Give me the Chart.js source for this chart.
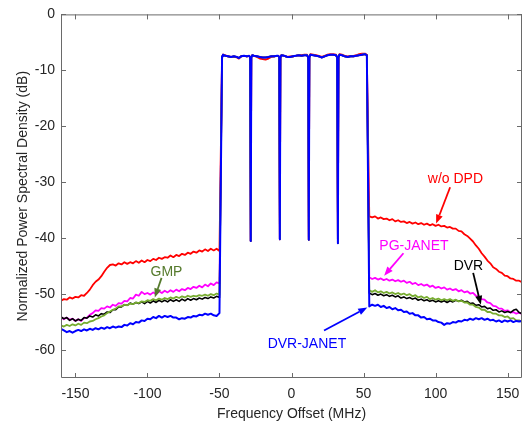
<!DOCTYPE html>
<html>
<head>
<meta charset="utf-8">
<title>PSD comparison</title>
<script src="https://cdn.jsdelivr.net/npm/chart.js@4"></script>
<style>
  html, body { margin: 0; padding: 0; background: #fff; }
</style>
</head>
<body>
<canvas id="psd" width="529" height="423"></canvas>
<script>
"use strict";

// Frequency grids (MHz): lower adjacent band, occupied band, upper adjacent band
const freqLeft = [
    -160, -158, -156, -154, -152, -150, -148, -146, -144, -142,
    -140, -138, -136, -134, -132, -130, -128, -126, -124, -122,
    -120, -118, -116, -114, -112, -110, -108, -106, -104, -102,
    -100, -98, -96, -94, -92, -90, -88, -86, -84, -82,
    -80, -78, -76, -74, -72, -70, -68, -66, -64, -62,
    -60, -58, -56, -54, -52, -50
];
const freqInBand = [
    -48.2, -47.6, -46, -44, -42, -40, -38, -36.5, -35, -33,
    -31, -29.4, -28.7, -28.3, -27.9, -27.2, -26, -24, -22, -20,
    -18, -16, -14, -12, -10, -9.2, -8.5, -8.1, -7.7, -7,
    -5, -3, -1, 1, 3, 5, 7, 9, 10.8, 11.6,
    12.0, 12.4, 13.1, 15, 17, 19, 21, 23, 25, 27,
    29, 30.9, 31.7, 32.2, 32.6, 33.3, 35, 37, 39, 41,
    43, 45, 47, 49, 51, 52.3
];
const freqRight = [
    54, 56, 58, 60, 62, 64, 66, 68, 70, 72,
    74, 76, 78, 80, 82, 84, 86, 88, 90, 92,
    94, 96, 98, 100, 102, 104, 106, 108, 110, 112,
    114, 116, 118, 120, 122, 124, 126, 128, 130, 132,
    134, 136, 138, 140, 142, 144, 146, 148, 150, 152,
    154, 156, 158, 160
];

// Occupied band level (dB), five 20 MHz carriers
const inBandLinearized = [
    -7.5, -7.2, -7.4, -7.5, -7.6, -7.5, -7.6, -7.8, -7.5, -7.4,
    -7.5, -7.4, -7.7, -40.5, -7.7, -7.3, -7.4, -7.5, -7.6, -7.7,
    -7.7, -7.6, -7.5, -7.5, -7.4, -7.4, -7.7, -40.2, -7.7, -7.3,
    -7.4, -7.6, -7.6, -7.5, -7.4, -7.3, -7.4, -7.3, -7.3, -7.7,
    -40.3, -7.7, -7.2, -7.3, -7.4, -7.5, -7.7, -7.5, -7.3, -7.2,
    -7.2, -7.3, -7.7, -40.9, -7.7, -7.2, -7.3, -7.5, -7.6, -7.5,
    -7.5, -7.4, -7.3, -7.2, -7.1, -7.3
];
const inBandNoDpd = [
    -7.5, -7.2, -7.3, -7.5, -7.6, -7.6, -7.7, -7.9, -7.5, -7.4,
    -7.5, -7.4, -7.7, -40.5, -7.7, -7.3, -7.4, -7.6, -7.9, -8.0,
    -8.1, -7.9, -7.6, -7.5, -7.4, -7.4, -7.7, -40.2, -7.7, -7.3,
    -7.4, -7.6, -7.5, -7.5, -7.4, -7.3, -7.3, -7.2, -7.2, -7.7,
    -40.3, -7.7, -7.1, -7.2, -7.3, -7.4, -7.6, -7.4, -7.2, -7.1,
    -7.1, -7.2, -7.7, -40.9, -7.7, -7.1, -7.2, -7.4, -7.5, -7.4,
    -7.4, -7.3, -7.1, -7.0, -7.0, -7.2
];

// Out-of-band spectra (dB) for each linearization method
const noDpdLeft = [
    -51.2, -50.9, -51.0, -50.6, -50.8, -50.5, -50.6, -50.2, -50.3, -49.8,
    -49.2, -48.4, -47.8, -47.4, -46.8, -46.0, -45.3, -44.8, -44.7, -44.9,
    -44.5, -44.7, -44.3, -44.6, -44.3, -44.5, -44.1, -44.4, -44.0, -44.3,
    -43.9, -44.1, -43.7, -43.9, -43.5, -43.7, -43.4, -43.5, -43.1, -43.4,
    -43.0, -43.2, -42.8, -43.0, -42.6, -42.8, -42.4, -42.6, -42.2, -42.4,
    -42.0, -42.3, -41.9, -42.2, -41.9, -42.3
];
const noDpdRight = [
    -36.1, -36.3, -36.1, -36.5, -36.3, -36.6, -36.5, -36.8, -36.6, -37.0,
    -36.8, -37.1, -37.0, -37.3, -37.1, -37.4, -37.2, -37.5, -37.3, -37.6,
    -37.4, -37.7, -37.5, -37.8, -37.6, -37.9, -37.8, -38.1, -38.0, -38.3,
    -38.3, -38.7, -38.8, -39.3, -39.6, -40.1, -40.6, -41.3, -41.9, -42.7,
    -43.3, -44.0, -44.5, -45.2, -45.5, -46.0, -46.2, -46.7, -46.8, -47.2,
    -47.3, -47.6, -47.6, -47.9
];
const pgJanetLeft = [
    -54.1, -54.5, -54.2, -54.6, -54.4, -54.8, -54.5, -54.8, -54.3, -54.2,
    -53.7, -53.4, -52.9, -53.0, -52.5, -52.6, -52.2, -52.4, -51.9, -52.1,
    -51.6, -51.7, -51.2, -51.3, -50.7, -50.8, -50.1, -50.3, -49.6, -50.0,
    -49.8, -50.1, -49.7, -50.0, -49.5, -49.8, -49.4, -49.7, -49.3, -49.6,
    -49.2, -49.5, -49.1, -49.3, -48.9, -49.1, -48.7, -48.9, -48.5, -48.8,
    -48.3, -48.6, -48.1, -48.4, -47.9, -48.1
];
const pgJanetRight = [
    -47.0, -47.3, -47.1, -47.4, -47.2, -47.5, -47.3, -47.6, -47.4, -47.7,
    -47.5, -47.8, -47.6, -48.0, -47.8, -48.2, -48.0, -48.4, -48.2, -48.5,
    -48.3, -48.7, -48.5, -48.9, -48.7, -49.0, -48.8, -49.2, -49.0, -49.3,
    -49.1, -49.5, -49.3, -49.7, -49.5, -49.9, -49.8, -50.3, -50.4, -50.9,
    -51.0, -51.5, -51.6, -52.1, -52.2, -52.6, -52.6, -53.0, -52.9, -53.3,
    -53.2, -53.5, -53.3, -53.6
];
const dvrLeft = [
    -54.1, -54.4, -54.2, -54.7, -54.4, -54.8, -54.5, -54.7, -54.2, -54.3,
    -53.9, -54.1, -53.7, -53.9, -53.5, -53.6, -53.2, -53.3, -52.8, -52.8,
    -52.3, -52.3, -51.9, -52.0, -51.6, -51.8, -51.5, -51.7, -51.4, -51.7,
    -51.3, -51.6, -51.2, -51.5, -51.1, -51.4, -51.1, -51.4, -51.0, -51.3,
    -51.0, -51.3, -50.9, -51.2, -50.8, -51.1, -50.8, -51.0, -50.7, -50.9,
    -50.6, -50.8, -50.5, -50.7, -50.4, -50.6
];
const dvrRight = [
    -49.8, -50.1, -49.9, -50.2, -50.0, -50.3, -50.1, -50.4, -50.2, -50.5,
    -50.3, -50.7, -50.5, -50.8, -50.6, -50.9, -50.7, -51.1, -50.9, -51.2,
    -51.0, -51.3, -51.1, -51.4, -51.2, -51.4, -51.2, -51.5, -51.2, -51.4,
    -51.1, -51.3, -51.1, -51.4, -51.3, -51.7, -51.6, -52.0, -51.9, -52.3,
    -52.2, -52.6, -52.5, -52.9, -52.8, -53.2, -53.0, -53.3, -53.1, -53.3,
    -52.9, -52.7, -53.3, -53.5
];
const gmpLeft = [
    -55.6, -55.8, -55.5, -55.7, -55.4, -55.6, -55.3, -55.5, -55.1, -55.2,
    -54.9, -54.8, -54.5, -54.3, -54.0, -53.8, -53.4, -53.1, -52.8, -52.6,
    -52.2, -52.2, -51.9, -52.0, -51.7, -51.8, -51.5, -51.6, -51.3, -51.4,
    -51.1, -51.2, -50.9, -51.1, -50.8, -51.0, -50.7, -50.9, -50.6, -50.8,
    -50.5, -50.7, -50.4, -50.6, -50.3, -50.5, -50.3, -50.4, -50.2, -50.3,
    -50.1, -50.3, -50.0, -50.2, -49.9, -50.1
];
const gmpRight = [
    -49.3, -49.6, -49.3, -49.7, -49.5, -49.8, -49.6, -49.9, -49.7, -50.0,
    -49.8, -50.1, -49.9, -50.2, -50.0, -50.4, -50.2, -50.6, -50.4, -50.7,
    -50.5, -50.9, -50.7, -51.0, -50.8, -51.1, -50.9, -51.1, -50.9, -51.2,
    -51.0, -51.3, -51.2, -51.5, -51.5, -51.9, -51.9, -52.3, -52.4, -52.8,
    -52.8, -53.2, -53.2, -53.5, -53.5, -53.8, -53.8, -54.1, -54.0, -54.4,
    -54.3, -54.7, -54.7, -55.0
];
const dvrJanetLeft = [
    -56.2, -56.5, -56.8, -56.6, -56.9, -56.6, -56.4, -56.6, -56.3, -56.5,
    -56.2, -56.4, -56.1, -56.3, -56.0, -56.2, -55.9, -56.1, -55.8, -56.0,
    -55.8, -55.9, -55.5, -55.6, -55.2, -55.4, -55.0, -55.1, -54.7, -54.8,
    -54.4, -54.5, -54.1, -54.3, -53.9, -54.2, -53.9, -54.1, -53.9, -54.2,
    -54.2, -54.5, -54.3, -54.4, -54.1, -54.2, -53.9, -54.0, -53.7, -53.8,
    -53.5, -53.7, -53.5, -53.8, -53.9, -53.4
];
const dvrJanetRight = [
    -52.2, -51.9, -52.1, -51.9, -52.3, -52.1, -52.5, -52.3, -52.7, -52.5,
    -52.9, -52.8, -53.2, -53.1, -53.5, -53.4, -53.8, -53.8, -54.2, -54.1,
    -54.5, -54.4, -54.7, -54.7, -55.0, -55.1, -55.5, -55.2, -55.3, -55.0,
    -55.1, -54.8, -54.9, -54.6, -54.7, -54.4, -54.6, -54.3, -54.5, -54.3,
    -54.6, -54.4, -54.7, -54.6, -54.9, -54.7, -55.0, -54.7, -54.9, -54.7,
    -55.0, -54.8, -54.9, -54.8
];

// Axis ticks
const xTickValues = [-150, -100, -50, 0, 50, 100, 150];
const yTickValues = [-60, -50, -40, -30, -20, -10, 0];

const TEXT = '#262626';
const FRAME = '#6a6a6a';
const FONT = 'Helvetica, Arial, "Liberation Sans", sans-serif';

// Stitch the three frequency segments into one trace
function trace(left, inBand, right) {
    return [
        ...freqLeft.map((f, i) => ({ x: f, y: left[i] })),
        ...freqInBand.map((f, i) => ({ x: f, y: inBand[i] })),
        ...freqRight.map((f, i) => ({ x: f, y: right[i] }))
    ];
}

function series(label, color, width, points) {
    return {
        label: label,
        data: points,
        borderColor: color,
        backgroundColor: color,
        borderWidth: width,
        pointRadius: 0,
        tension: 0,
        borderJoinStyle: 'round'
    };
}

// First dataset is painted last, so DVR-JANET sits on top
const datasets = [
    series('DVR-JANET', '#0000ff', 2, trace(dvrJanetLeft, inBandLinearized, dvrJanetRight)),
    series('GMP', '#77ac30', 1.8, trace(gmpLeft, inBandLinearized, gmpRight)),
    series('DVR', '#000000', 1.6, trace(dvrLeft, inBandLinearized, dvrRight)),
    series('PG-JANET', '#ff00ff', 1.8, trace(pgJanetLeft, inBandLinearized, pgJanetRight)),
    series('w/o DPD', '#ff0000', 1.8, trace(noDpdLeft, inBandNoDpd, noDpdRight))
];

// Text callouts with arrows, in data units
const callouts = [
    { text: 'w/o DPD', color: '#ff0000', at: [113.8, -29.5], from: [110.1, -30.9], to: [100.4, -37.4] },
    { text: 'PG-JANET', color: '#ff00ff', at: [85.0, -41.4], from: [77.7, -42.7], to: [64.3, -46.7] },
    { text: 'DVR', color: '#000000', at: [122.8, -45.0], from: [126.1, -46.2], to: [131.4, -51.9] },
    { text: 'GMP', color: '#557a2c', at: [-86.8, -46.0], from: [-90.2, -47.1], to: [-94.9, -50.6] },
    { text: 'DVR-JANET', color: '#0000ff', at: [10.7, -59.0], from: [22.6, -56.5], to: [52.6, -52.4] }
];

// Box outline with inward ticks on all four sides
const framePlugin = {
    id: 'frame',
    afterDatasetsDraw(chart) {
        const { ctx, chartArea: a, scales } = chart;
        const tick = 5;
        ctx.save();
        ctx.strokeStyle = FRAME;
        ctx.lineWidth = 1;
        ctx.beginPath();
        ctx.rect(a.left + 0.5, a.top + 0.5, a.right - a.left - 1, a.bottom - a.top - 1);
        xTickValues.forEach(v => {
            const px = Math.round(scales.x.getPixelForValue(v)) + 0.5;
            ctx.moveTo(px, a.bottom); ctx.lineTo(px, a.bottom - tick);
            ctx.moveTo(px, a.top); ctx.lineTo(px, a.top + tick);
        });
        yTickValues.forEach(v => {
            const py = Math.round(scales.y.getPixelForValue(v)) + 0.5;
            ctx.moveTo(a.left, py); ctx.lineTo(a.left + tick, py);
            ctx.moveTo(a.right, py); ctx.lineTo(a.right - tick, py);
        });
        ctx.stroke();
        ctx.restore();
    },
    afterDraw(chart) {
        const { ctx, scales } = chart;
        ctx.save();
        ctx.font = '14px ' + FONT;
        ctx.textAlign = 'center';
        ctx.textBaseline = 'middle';
        callouts.forEach(c => {
            const tx = scales.x.getPixelForValue(c.at[0]);
            const ty = scales.y.getPixelForValue(c.at[1]);
            ctx.fillStyle = c.color;
            ctx.fillText(c.text, tx, ty);

            const x0 = scales.x.getPixelForValue(c.from[0]);
            const y0 = scales.y.getPixelForValue(c.from[1]);
            const x1 = scales.x.getPixelForValue(c.to[0]);
            const y1 = scales.y.getPixelForValue(c.to[1]);
            const ang = Math.atan2(y1 - y0, x1 - x0);
            const head = 9, half = 3.5;
            const bx = x1 - head * Math.cos(ang);
            const by = y1 - head * Math.sin(ang);
            ctx.strokeStyle = c.color;
            ctx.lineWidth = 1.8;
            ctx.beginPath();
            ctx.moveTo(x0, y0);
            ctx.lineTo(bx, by);
            ctx.stroke();
            ctx.beginPath();
            ctx.moveTo(x1, y1);
            ctx.lineTo(bx + half * Math.sin(ang), by - half * Math.cos(ang));
            ctx.lineTo(bx - half * Math.sin(ang), by + half * Math.cos(ang));
            ctx.closePath();
            ctx.fill();
        });
        ctx.restore();
    }
};

Chart.defaults.font.family = FONT;
Chart.defaults.color = TEXT;

new Chart(document.getElementById('psd').getContext('2d'), {
    type: 'line',
    data: { datasets: datasets },
    options: {
        responsive: false,
        animation: false,
        events: [],
        layout: { padding: { top: 11, right: 7, left: 0, bottom: 0 } },
        plugins: {
            legend: { display: false },
            tooltip: { enabled: false }
        },
        scales: {
            x: {
                type: 'linear',
                min: -160,
                max: 160,
                afterBuildTicks: s => { s.ticks = xTickValues.map(v => ({ value: v })); },
                afterFit: s => { s.height = 45; },
                grid: { display: false, drawTicks: false },
                border: { display: false },
                ticks: { font: { size: 14 }, color: TEXT, padding: 8, maxRotation: 0, autoSkip: false },
                title: {
                    display: true,
                    text: 'Frequency Offset (MHz)',
                    font: { size: 14 },
                    color: TEXT,
                    padding: { top: 0, bottom: 0 }
                }
            },
            y: {
                type: 'linear',
                min: -65,
                max: 0,
                afterBuildTicks: s => { s.ticks = yTickValues.map(v => ({ value: v })); },
                afterFit: s => { s.width = 61; },
                grid: { display: false, drawTicks: false },
                border: { display: false },
                ticks: { font: { size: 14 }, color: TEXT, padding: 6, autoSkip: false },
                title: {
                    display: true,
                    text: 'Normalized Power Spectral Density (dB)',
                    font: { size: 14 },
                    color: TEXT,
                    padding: { top: 15, bottom: 0 }
                }
            }
        }
    },
    plugins: [framePlugin]
});
</script>
</body>
</html>
